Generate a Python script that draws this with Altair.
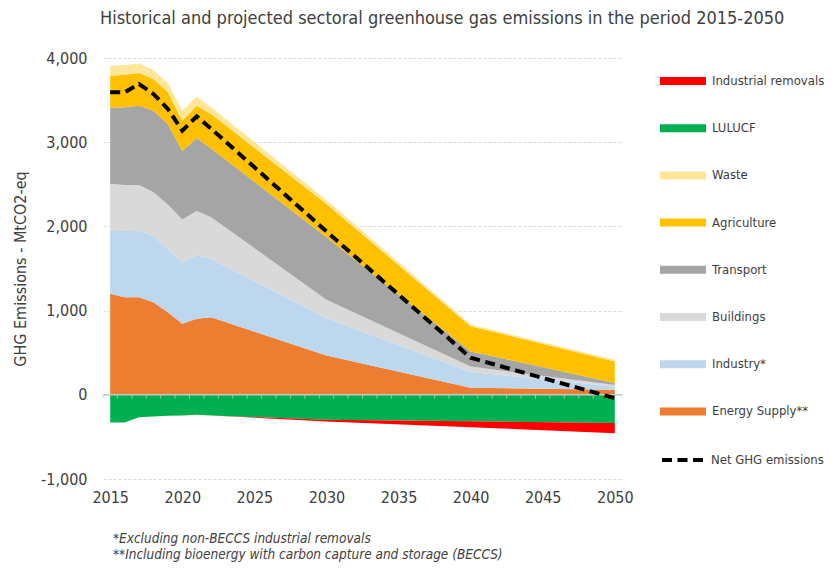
import altair as alt
import pandas as pd

# ---------------- data ----------------
years = [2015, 2016, 2017, 2018, 2019, 2020, 2021, 2022, 2030, 2040, 2050]
energy_supply = [1199, 1159, 1159, 1099, 981, 843, 902, 921, 466, 85, 60]
industry = [763, 787, 787, 784, 752, 724, 755, 693, 444, 185, 40]
buildings = [543, 547, 547, 522, 526, 514, 527, 494, 220, 65, 15]
transport = [902, 921, 941, 970, 958, 815, 867, 817, 740, 180, 25]
agriculture = [383, 388, 388, 376, 375, 360, 383, 410, 395, 300, 255]
waste = [119, 115, 114, 107, 111, 119, 107, 79, 50, 20, 20]
lulucf = [-330, -330, -266, -258, -250, -245, -237, -245, -297, -313, -335]
industrial_removals = [0, 0, 0, 0, 0, 0, 0, 0, -20, -72, -121]
net_ghg = [3592, 3592, 3691, 3573, 3395, 3137, 3307, 3160, 1940, 440, -40]

positive_series = [
    ("Energy Supply**", energy_supply),
    ("Industry*", industry),
    ("Buildings", buildings),
    ("Transport", transport),
    ("Agriculture", agriculture),
    ("Waste", waste),
]
negative_series = [
    ("LULUCF", lulucf),
    ("Industrial removals", industrial_removals),
]

legend_order = ["Industrial removals", "LULUCF", "Waste", "Agriculture",
                "Transport", "Buildings", "Industry*", "Energy Supply**"]
legend_colors = ["#FF0000", "#00B050", "#FFE699", "#FFC000",
                 "#A5A5A5", "#D9D9D9", "#BDD7EE", "#ED7D31"]

y_ticks = [-1000, 0, 1000, 2000, 3000, 4000]
x_labels = [2015, 2020, 2025, 2030, 2035, 2040, 2045, 2050]
axis_tick_positions = [y + 0.5 for y in range(2014, 2051)]

title_text = "Historical and projected sectoral greenhouse gas emissions in the period 2015-2050"
y_title = "GHG Emissions - MtCO2-eq"
footnotes = ["*Excluding non-BECCS industrial removals",
             "**Including bioenergy with carbon capture and storage (BECCS)"]

FONT = "'Liberation Sans Narrow', 'DejaVu Sans Condensed', 'Roboto Condensed', Arial, sans-serif"
TXT = "#404040"

# ---------------- build stacked table ----------------
rows = []
for i, yr in enumerate(years):
    base = 0.0
    for name, vals in positive_series:
        rows.append({"year": yr, "series": name, "lo": base, "hi": base + vals[i]})
        base += vals[i]
    base = 0.0
    for name, vals in negative_series:
        rows.append({"year": yr, "series": name, "lo": base + vals[i], "hi": base})
        base += vals[i]
area_df = pd.DataFrame(rows)
net_df = pd.DataFrame({"year": years, "value": net_ghg, "series": "Net GHG emissions"})
tick_df = pd.DataFrame({"year": axis_tick_positions})

xscale = alt.Scale(domain=[2014.5, 2050.5], nice=False, zero=False)
yscale = alt.Scale(domain=[-1000, 4000], nice=False)

areas = alt.Chart(area_df).mark_area(interpolate="linear").encode(
    x=alt.X("year:Q", scale=xscale,
            axis=alt.Axis(values=x_labels, format="d", title=None, grid=False,
                          domain=False, ticks=False, labelPadding=10,
                          labelFontSize=16, labelColor=TXT, labelFont=FONT)),
    y=alt.Y("lo:Q", scale=yscale,
            axis=alt.Axis(values=y_ticks, title=y_title, grid=True,
                          gridDash=[3, 2], gridColor="#d9d9d9", gridWidth=1,
                          domain=False, ticks=False, labelPadding=16,
                          labelFontSize=16, labelColor=TXT, labelFont=FONT,
                          labelExpr="datum.value < 0 ? '-' + format(-datum.value, ',') : format(datum.value, ',')",
                          titleFont=FONT, titleFontSize=16, titleFontWeight="normal",
                          titleColor=TXT, titlePadding=12)),
    y2="hi:Q",
    fill=alt.Fill("series:N",
                  scale=alt.Scale(domain=legend_order, range=legend_colors),
                  legend=alt.Legend(title=None, orient="none", legendX=557, legendY=0,
                                    symbolType="M-1,-0.174H1V0.174H-1Z", symbolSize=2116,
                                    symbolStrokeWidth=0, rowPadding=17.2, padding=0,
                                    labelFontSize=13, labelColor=TXT, labelFont=FONT,
                                    labelOffset=6, labelLimit=200)),
    order=alt.Order("series:N"),
)

zero_line = alt.Chart(pd.DataFrame({"y": [0]})).mark_rule(
    color="#c8c8c8", strokeWidth=1.5
).encode(x=alt.datum(2014.5, scale=xscale), x2=alt.datum(2050.5), y=alt.Y("y:Q", scale=yscale))

ticks = alt.Chart(tick_df).mark_tick(
    orient="vertical", size=4, thickness=1, color="#d0d0d0", yOffset=2
).encode(x=alt.X("year:Q", scale=xscale), y=alt.datum(0, scale=yscale))

net_line = alt.Chart(net_df).mark_line(
    color="black", strokeWidth=4, strokeCap="butt"
).encode(
    x=alt.X("year:Q", scale=xscale),
    y=alt.Y("value:Q", scale=yscale),
    strokeDash=alt.StrokeDash("series:N",
                              scale=alt.Scale(domain=["Net GHG emissions"], range=[[10, 5.5]]),
                              legend=alt.Legend(title=None, orient="none", legendX=557, legendY=377,
                                                symbolType="stroke", symbolSize=2116,
                                                symbolStrokeColor="black", symbolStrokeWidth=4,
                                                padding=0, labelFontSize=13, labelColor=TXT,
                                                labelFont=FONT, labelOffset=1, labelLimit=200)),
)

foot1 = alt.Chart(pd.DataFrame({"t": [footnotes[0]]})).mark_text(
    align="left", baseline="middle", fontSize=13.5, fontStyle="italic", font=FONT, color=TXT
).encode(x=alt.value(10), y=alt.value(481), text="t:N")
foot2 = alt.Chart(pd.DataFrame({"t": [footnotes[1]]})).mark_text(
    align="left", baseline="middle", fontSize=13.5, fontStyle="italic", font=FONT, color=TXT
).encode(x=alt.value(10), y=alt.value(497), text="t:N")

chart = alt.layer(areas, zero_line, ticks, net_line, foot1, foot2).properties(
    width=519, height=421,
    autosize=alt.AutoSizeParams(type="none"),
    padding={"left": 95, "top": 50, "right": 204, "bottom": 84},
    title=alt.Title(title_text, anchor="start", frame="group", dx=-3, offset=22,
                    fontSize=18, fontWeight="normal", color=TXT, font=FONT),
).configure_view(stroke=None).resolve_scale(fill="independent", strokeDash="independent")

chart.save("out.html", embed_options={"renderer": "svg", "actions": False})
